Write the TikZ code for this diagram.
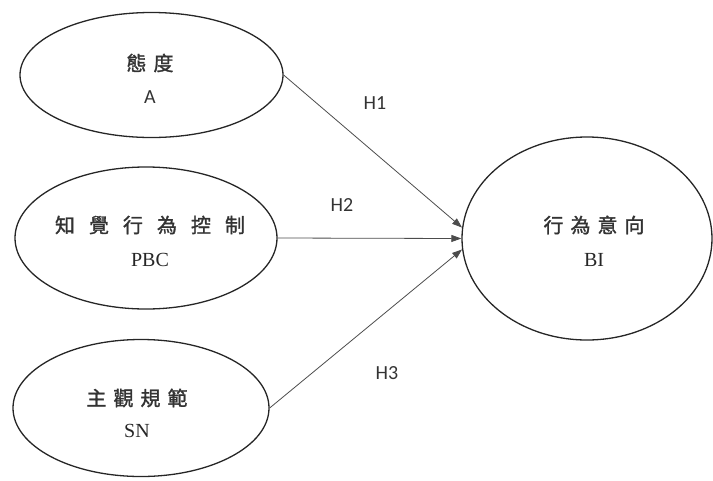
\documentclass[tikz,border=0pt]{standalone}
\usepackage{fontspec}
\setmainfont{Liberation Serif}
\newfontfamily\cjk[FakeBold=1.5]{Noto Sans CJK TC}
\newfontfamily\lab{Carlito}
\usetikzlibrary{shapes.geometric,arrows.meta}
\tikzset{
  oval/.style={draw=black!85,line width=1.3pt,ellipse,inner sep=0pt},
  cjktext/.style={font=\cjk\fontsize{20}{22}\selectfont,text=black!80,inner sep=0pt},
  entext/.style={font=\fontsize{20}{22}\selectfont,text=black!85,inner sep=0pt},
  labtext/.style={font=\lab\fontsize{20}{22}\selectfont,text=black!80,inner sep=0pt},
  link/.style={draw=black!70,line width=0.8pt,-{Triangle[length=10pt,width=7pt]}}
}
\newcommand{\gp}{\hspace{7pt}}
\newcommand{\gq}{\hspace{14pt}}
\begin{document}
\begin{tikzpicture}[x=1pt,y=-1pt]
\useasboundingbox (0,0) rectangle (713,480);
\node[oval,minimum width=263pt,minimum height=125pt] (A) at (151.5,75) {};
\node[oval,minimum width=262pt,minimum height=142pt] (PBC) at (146,238) {};
\node[oval,minimum width=256pt,minimum height=137pt] (SN) at (141,408) {};
\node[oval,minimum width=250pt,minimum height=203pt] (BI) at (587,238.5) {};
\node[cjktext] (tA) at (150,63) {態\gp 度};
\node[labtext] (eA) at (150,97) {A};
\node[cjktext] (tPBC) at (150,225) {知\gq 覺\gq 行\gq 為\gq 控\gq 制};
\node[entext] (ePBC) at (150,260) {PBC};
\node[cjktext] (tSN) at (137,398) {主\gp 觀\gp 規\gp 範};
\node[entext] (eSN) at (137,431) {SN};
\node[cjktext] (tBI) at (594,225) {行\gp 為\gp 意\gp 向};
\node[entext] (eBI) at (594,260) {BI};
\draw[link] (A.east) -- (BI.175);
\draw[link] (PBC.east) -- (BI.west);
\draw[link] (SN.east) -- (BI.185);
\node[labtext] (h1) at (375,103) {H1};
\node[labtext] (h2) at (342,205) {H2};
\node[labtext] (h3) at (387,373) {H3};
\end{tikzpicture}
\end{document}
